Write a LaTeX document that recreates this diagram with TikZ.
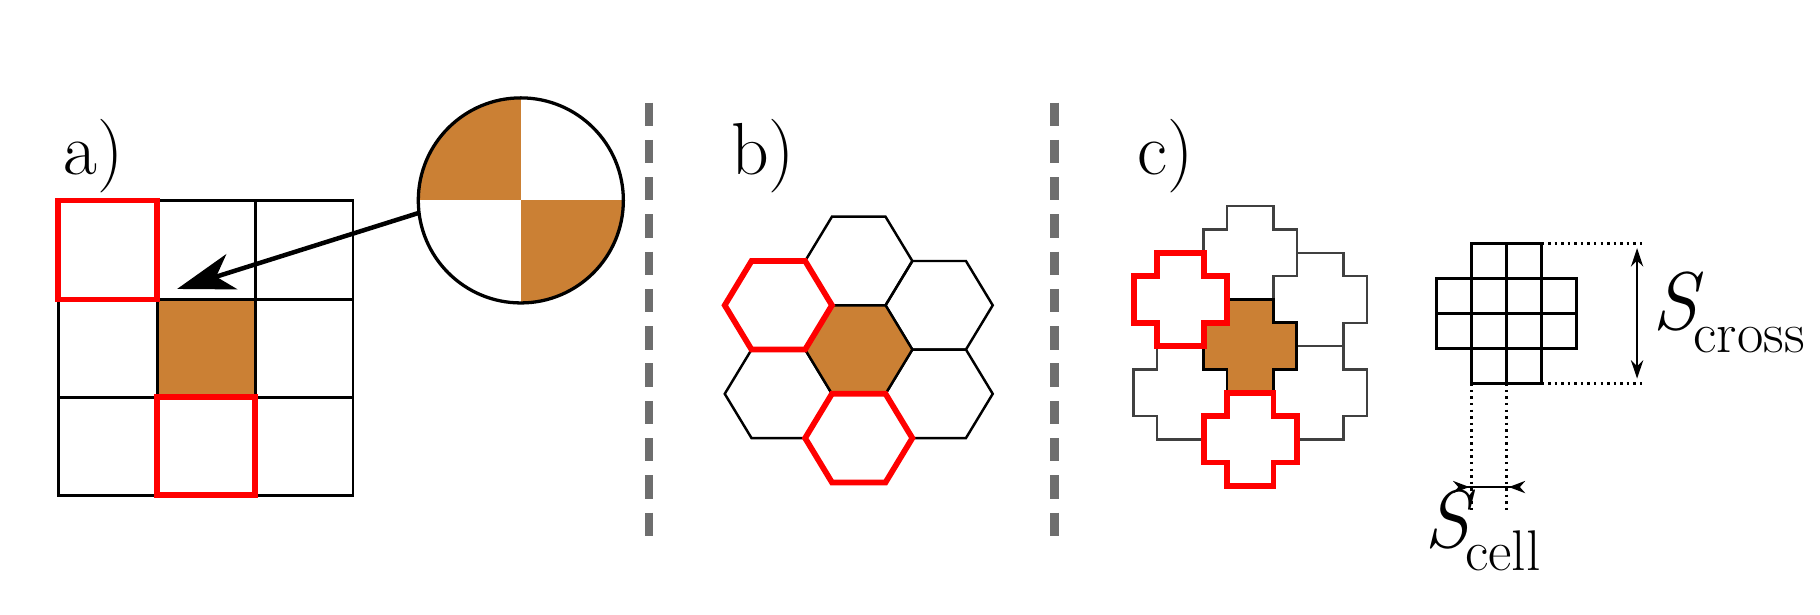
\documentclass[tikz,border=0pt]{standalone}
\usetikzlibrary{arrows.meta}
\definecolor{brn}{RGB}{203,128,52}
\definecolor{dgray}{RGB}{110,110,110}
\definecolor{rd}{RGB}{255,0,0}
\begin{document}
\begin{tikzpicture}[x=0.02cm,y=-0.02cm,
  blk/.style={line width=1.4pt,black},
  red/.style={line width=2.8pt,draw=rd},
  sep/.style={line width=4pt,dgray,dash pattern=on 0.4cm off 0.24cm},
  lab/.style={font=\fontsize{36}{36}\selectfont,anchor=base},
  thin/.style={line width=1.2pt},
  dots/.style={line width=1.2pt,dotted}]
\useasboundingbox (0,0) rectangle (1562,527);
% ---------- panel a
\fill[brn] (135,257) rectangle (219,341);
\draw[blk] (50,172) rectangle (303,425);
\foreach \x in {135,219}{\draw[blk] (\x,172)--(\x,425);}
\foreach \y in {257,341}{\draw[blk] (50,\y)--(303,\y);}
\draw[red] (50,172) rectangle (135,257);
\draw[red] (135,341) rectangle (219,425);
\node[lab] (la) at (80,150) {a)};
\node[circle,minimum size=3.52cm,inner sep=0pt] (circ) at (447,172) {};
\begin{scope}
\clip (circ.center) circle[radius=88];
\fill[brn] (359,84) rectangle (447,172);
\fill[brn] (447,172) rectangle (535,260);
\end{scope}
\draw[line width=1.6pt] (circ.center) circle[radius=88];
\coordinate (tgt) at (152,248);
\draw[line width=2.2pt,-{Stealth[length=28pt,width=18pt,inset=8pt]}] (circ.-173) -- (tgt);
% separators
\coordinate (s1a) at (557,88); \coordinate (s1b) at (557,465);
\coordinate (s2a) at (905,88); \coordinate (s2b) at (905,465);
\draw[sep] (s1a)--(s1b);
\draw[sep] (s2a)--(s2b);
% ---------- panel b
\node[lab] (lb) at (655,150) {b)};
\def\hexp#1#2{(#1-46,#2) -- (#1-23,#2-38) -- (#1+23,#2-38) -- (#1+46,#2) -- (#1+23,#2+38) -- (#1-23,#2+38) -- cycle}
\foreach \cx/\cy in {737/224,806/262,806/338,668/338}{\draw[thin] \hexp{\cx}{\cy};}
\fill[brn] \hexp{737}{300};
\draw[thin] \hexp{737}{300};
\draw[red] \hexp{668}{262};
\draw[red] \hexp{737}{376};
% ---------- panel c
\node[lab] (lc) at (1000,150) {c)};
\def\crs#1#2#3{(#1-#3,#2-2*#3) -- (#1+#3,#2-2*#3) -- (#1+#3,#2-#3) -- (#1+2*#3,#2-#3) -- (#1+2*#3,#2+#3) -- (#1+#3,#2+#3) -- (#1+#3,#2+2*#3) -- (#1-#3,#2+2*#3) -- (#1-#3,#2+#3) -- (#1-2*#3,#2+#3) -- (#1-2*#3,#2-#3) -- (#1-#3,#2-#3) -- cycle}
\foreach \cx/\cy in {1073/217,1133/257,1133/337,1013/337}{\draw[thin,black!75] \crs{\cx}{\cy}{20};}
\fill[brn] \crs{1073}{297}{20};
\draw[line width=1.4pt] \crs{1073}{297}{20};
\draw[red] \crs{1013}{257}{20};
\draw[red] \crs{1073}{377}{20};
% sample cross
\draw[line width=1.4pt] \crs{1293}{269}{30};
\foreach \x in {1263,1293,1323}{\draw[line width=1.4pt] (\x,209)--(\x,329);}
\foreach \y in {239,269,299}{\draw[line width=1.4pt] (1233,\y)--(1353,\y);}
\coordinate (t1) at (1323,209); \coordinate (t2) at (1410,209);
\coordinate (b1) at (1323,329); \coordinate (b2) at (1410,329);
\draw[dots] (t1)--(t2);
\draw[dots] (b1)--(b2);
\coordinate (v1) at (1405,213); \coordinate (v2) at (1405,325);
\draw[line width=1pt,{Stealth[length=9pt,width=6pt]}-{Stealth[length=9pt,width=6pt]}] (v1)--(v2);
\node[anchor=west,inner sep=0pt] (scr) at (1418,268) {\fontsize{40}{40}\selectfont\itshape S\kern-2pt\raisebox{-0.28em}{\upshape\fontsize{28}{28}\selectfont cross}};
\coordinate (d1a) at (1263,329); \coordinate (d1b) at (1263,440);
\coordinate (d2a) at (1293,329); \coordinate (d2b) at (1293,440);
\draw[dots] (d1a)--(d1b);
\draw[dots] (d2a)--(d2b);
\coordinate (h1) at (1247,418); \coordinate (h2) at (1309,418);
\draw[line width=0.9pt,{Stealth[length=8pt,width=6pt,reversed]}-{Stealth[length=8pt,width=6pt,reversed]}] (h1)--(h2);
\node[anchor=west,inner sep=0pt] (sce) at (1222,455) {\fontsize{40}{40}\selectfont\itshape S\kern-2pt\raisebox{-0.28em}{\upshape\fontsize{28}{28}\selectfont cell}};
\end{tikzpicture}
\end{document}
